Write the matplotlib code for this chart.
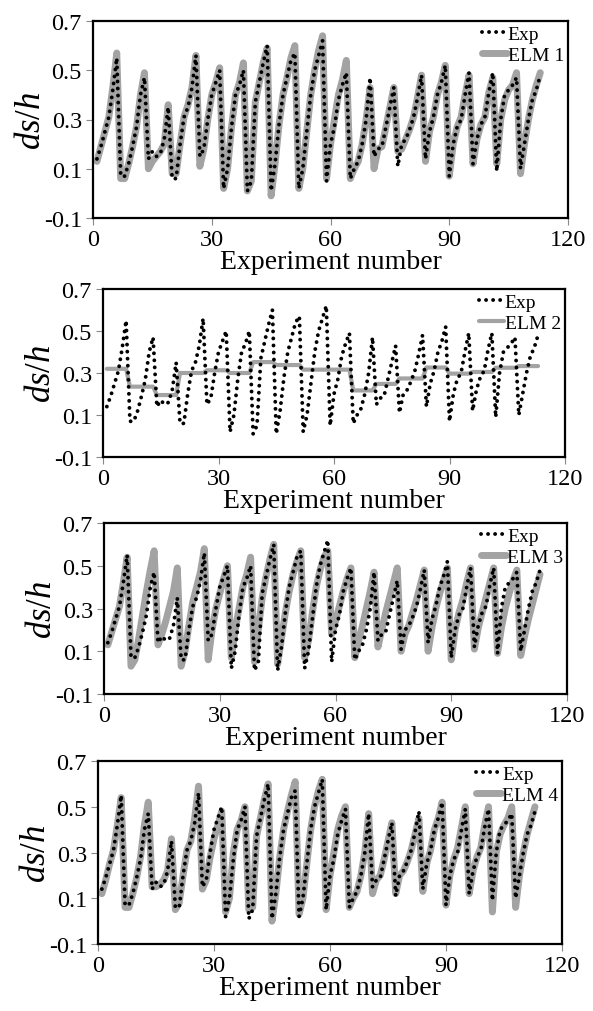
import numpy as np
import matplotlib
matplotlib.use("Agg")
import matplotlib.pyplot as plt

plt.rcParams['font.family'] = ['Liberation Serif', 'DejaVu Serif']
plt.rcParams['mathtext.fontset'] = 'custom'
plt.rcParams['mathtext.it'] = 'Liberation Serif:italic'
plt.rcParams['mathtext.rm'] = 'Liberation Serif'

# measured ds/h, experiments 1..113
exp = [0.14, 0.19, 0.25, 0.31, 0.42, 0.55,
       0.07, 0.07, 0.12, 0.19, 0.27, 0.40, 0.47,
       0.14, 0.17, 0.15, 0.16, 0.22, 0.35,
       0.06, 0.06, 0.20, 0.31, 0.35, 0.43, 0.56,
       0.15, 0.18, 0.30, 0.40, 0.45, 0.50,
       0.02, 0.10, 0.27, 0.40, 0.44, 0.50,
       0.01, 0.05, 0.37, 0.45, 0.53, 0.60,
       0.01, 0.12, 0.28, 0.40, 0.47, 0.54, 0.57,
       0.02, 0.10, 0.25, 0.40, 0.50, 0.56, 0.62,
       0.05, 0.20, 0.27, 0.38, 0.44, 0.49,
       0.06, 0.10, 0.13, 0.20, 0.30, 0.47,
       0.15, 0.18, 0.19, 0.27, 0.35, 0.43,
       0.11, 0.20, 0.22, 0.26, 0.31, 0.39, 0.48,
       0.14, 0.25, 0.31, 0.40, 0.45, 0.52,
       0.07, 0.20, 0.27, 0.30, 0.40, 0.49,
       0.12, 0.22, 0.28, 0.31, 0.41, 0.49,
       0.09, 0.30, 0.40, 0.42, 0.44, 0.47,
       0.10, 0.20, 0.30, 0.38, 0.42, 0.48]

elm1 = [0.13, 0.19, 0.25, 0.31, 0.43, 0.57,
        0.06, 0.06, 0.12, 0.19, 0.27, 0.40, 0.49,
        0.10, 0.13, 0.15, 0.17, 0.20, 0.36,
        0.08, 0.08, 0.20, 0.31, 0.36, 0.43, 0.56,
        0.11, 0.18, 0.30, 0.40, 0.45, 0.51,
        0.02, 0.10, 0.27, 0.40, 0.45, 0.53,
        0.01, 0.05, 0.37, 0.45, 0.53, 0.59,
        -0.01, 0.12, 0.28, 0.40, 0.47, 0.55, 0.60,
        0.02, 0.10, 0.25, 0.40, 0.50, 0.58, 0.64,
        0.06, 0.20, 0.30, 0.40, 0.46, 0.54,
        0.06, 0.10, 0.13, 0.20, 0.30, 0.43,
        0.10, 0.18, 0.19, 0.27, 0.35, 0.43,
        0.17, 0.18, 0.22, 0.26, 0.31, 0.39, 0.48,
        0.13, 0.25, 0.31, 0.40, 0.45, 0.52,
        0.07, 0.20, 0.27, 0.31, 0.40, 0.48,
        0.12, 0.22, 0.28, 0.31, 0.41, 0.47,
        0.12, 0.30, 0.38, 0.42, 0.44, 0.49,
        0.08, 0.20, 0.30, 0.38, 0.44, 0.49]

elm2 = ([0.32] * 6 + [0.235] * 7 + [0.195] * 6 + [0.30] * 7 + [0.313] * 6 +
        [0.30] * 6 + [0.352] * 6 + [0.338] * 7 + [0.316] * 7 + [0.316] * 6 +
        [0.217] * 6 + [0.248] * 6 + [0.274] * 7 + [0.326] * 6 + [0.297] * 6 +
        [0.305] * 6 + [0.325] * 6 + [0.333] * 6)

elm3 = [0.13, 0.19, 0.25, 0.31, 0.42, 0.54,
        0.03, 0.06, 0.16, 0.27, 0.38, 0.48, 0.57,
        0.13, 0.18, 0.24, 0.31, 0.38, 0.49,
        0.03, 0.10, 0.22, 0.33, 0.40, 0.47, 0.58,
        0.06, 0.20, 0.30, 0.37, 0.44, 0.50,
        0.07, 0.20, 0.30, 0.40, 0.46, 0.54,
        0.05, 0.20, 0.35, 0.45, 0.53, 0.60,
        0.04, 0.16, 0.28, 0.38, 0.46, 0.52, 0.57,
        0.07, 0.15, 0.28, 0.40, 0.48, 0.54, 0.57,
        0.18, 0.24, 0.31, 0.38, 0.44, 0.49,
        0.07, 0.15, 0.22, 0.30, 0.38, 0.47,
        0.12, 0.20, 0.28, 0.35, 0.42, 0.49,
        0.10, 0.18, 0.22, 0.28, 0.34, 0.41, 0.48,
        0.10, 0.21, 0.30, 0.37, 0.43, 0.49,
        0.06, 0.20, 0.28, 0.34, 0.42, 0.49,
        0.11, 0.21, 0.28, 0.35, 0.42, 0.49,
        0.09, 0.21, 0.30, 0.37, 0.43, 0.48,
        0.08, 0.17, 0.25, 0.32, 0.39, 0.46]

elm4 = [0.12, 0.18, 0.25, 0.31, 0.42, 0.54,
        0.06, 0.06, 0.12, 0.19, 0.28, 0.42, 0.52,
        0.15, 0.15, 0.16, 0.18, 0.22, 0.36,
        0.05, 0.08, 0.20, 0.31, 0.35, 0.45, 0.59,
        0.14, 0.18, 0.28, 0.36, 0.42, 0.48,
        0.04, 0.10, 0.30, 0.40, 0.44, 0.50,
        0.05, 0.06, 0.37, 0.45, 0.53, 0.60,
        0.00, 0.12, 0.28, 0.40, 0.48, 0.55, 0.61,
        0.03, 0.10, 0.25, 0.40, 0.50, 0.57, 0.62,
        0.05, 0.20, 0.30, 0.40, 0.46, 0.50,
        0.06, 0.10, 0.13, 0.20, 0.30, 0.47,
        0.12, 0.18, 0.20, 0.27, 0.35, 0.43,
        0.12, 0.20, 0.22, 0.26, 0.31, 0.38, 0.45,
        0.13, 0.25, 0.31, 0.40, 0.45, 0.52,
        0.07, 0.20, 0.27, 0.32, 0.41, 0.50,
        0.12, 0.22, 0.28, 0.32, 0.42, 0.50,
        0.04, 0.30, 0.38, 0.42, 0.45, 0.50,
        0.06, 0.20, 0.30, 0.38, 0.44, 0.50]

models = [("ELM 1", elm1, 5.0), ("ELM 2", elm2, 3.0),
          ("ELM 3", elm3, 5.0), ("ELM 4", elm4, 5.0)]

x_ticks = [0, 30, 60, 90, 120]
y_ticks = [-0.1, 0.1, 0.3, 0.5, 0.7]

# axes boxes in pixels: left, top, right, bottom
boxes = [(93, 22, 568, 219), (103, 290, 565, 458),
         (104, 524, 567, 695), (98, 762, 562, 945)]

W, H = 593, 1012
fig = plt.figure(figsize=(W / 100, H / 100), dpi=100)
n = np.arange(1, len(exp) + 1)

for (name, pred, lw), (l, t, r, b) in zip(models, boxes):
    ax = fig.add_axes([l / W, 1 - b / H, (r - l) / W, (b - t) / H])
    ax.plot(n, pred, color="#a3a3a3", lw=lw, solid_capstyle="round",
            solid_joinstyle="round", label=name, zorder=2)
    ax.plot(n, exp, color="black", lw=2.8, linestyle=(0, (0.01, 1.8)),
            dash_capstyle="round", label="Exp", zorder=3)
    ax.set_xlim(0, 120)
    ax.set_ylim(-0.1, 0.7)
    ax.set_xticks(x_ticks)
    ax.set_yticks(y_ticks)
    ax.set_yticklabels([f"{v:.1f}" for v in y_ticks])
    ax.tick_params(labelsize=17.5, length=5, width=0.8, direction="out",
                   color="#888888", pad=3)
    for s in ax.spines.values():
        s.set_linewidth(1.6)
    ax.set_xlabel("Experiment number", fontsize=20, labelpad=-1)
    ax.set_ylabel(r"$ds/h$", fontsize=25, labelpad=-3)
    h, lab = ax.get_legend_handles_labels()
    ax.legend(h[::-1], lab[::-1], loc="upper right", frameon=False,
              fontsize=14, handlelength=1.3, handletextpad=0.05,
              borderaxespad=0.0, labelspacing=0.2, borderpad=0.2)

fig.savefig("out.png", dpi=100)
